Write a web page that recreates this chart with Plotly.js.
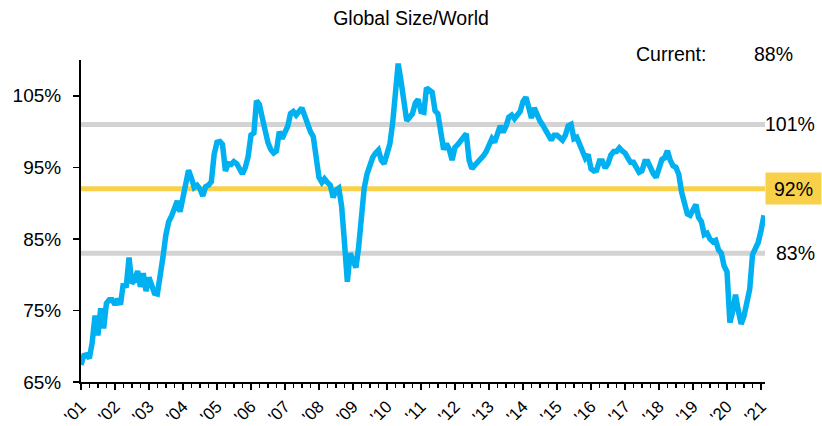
<!DOCTYPE html>
<html>
<head>
<meta charset="utf-8">
<script src="https://cdn.plot.ly/plotly-3.0.1.min.js"></script>
<style>html,body{margin:0;padding:0;background:#fff;}#chart{width:822px;height:426px;}</style>
</head>
<body>
<div id="chart"></div>
<script>
// Monthly series, Jan 2001 .. Feb 2021 (%)
const startYear = 2001;
const shareValues = [
  67.4, 68.7, 68.8, 68.3, 70.5, 74.3, 71.5, 75.3, 72.5, 76.0, 76.5, 76.5,
  75.8, 76.6, 75.8, 78.8, 78.2, 82.4, 78.8, 79.2, 80.5, 78.3, 80.2, 77.7,
  79.6, 78.5, 77.4, 77.3, 79.5, 82.5, 85.5, 87.4, 88.2, 89.5, 90.3, 88.8,
  90.8, 92.3, 94.6, 93.5, 92.2, 92.5, 92.0, 91.0, 92.3, 92.5, 93.0, 96.8,
  98.5, 98.6, 98.2, 94.5, 95.5, 95.4, 95.8, 95.5, 94.6, 94.1, 95.0, 96.5,
  99.5, 99.8, 104.3, 103.8, 102.0, 100.1, 98.5, 97.5, 97.0, 97.3, 100.0, 99.0,
  99.8, 100.8, 102.5, 102.8, 102.3, 102.8, 103.3, 102.2, 101.0, 100.0, 99.3, 96.2,
  93.6, 92.9, 93.4, 92.9, 92.5, 90.8, 91.8, 92.1, 89.5, 84.5, 79.0, 83.0,
  82.0, 81.0, 83.7, 88.0, 92.1, 94.1, 95.3, 96.4, 97.0, 97.4, 96.0, 95.5,
  96.9, 98.3, 101.0, 105.0, 109.5, 107.0, 104.0, 101.5, 102.0, 102.5, 104.0, 104.5,
  102.8, 102.7, 106.1, 105.8, 105.5, 102.9, 102.5, 100.0, 97.5, 98.3, 97.5, 96.0,
  97.8, 98.2, 98.6, 99.2, 99.7, 96.0, 94.8, 95.3, 95.7, 96.1, 96.6, 97.2,
  98.0, 99.0, 98.5, 99.5, 100.8, 99.9, 100.7, 102.0, 102.3, 101.8, 102.2, 102.8,
  104.2, 104.8, 103.5, 101.9, 103.3, 102.3, 101.5, 100.9, 100.0, 99.5, 98.8, 99.5,
  99.5, 99.2, 98.8, 99.5, 100.8, 101.0, 99.0, 99.2, 98.3, 97.2, 96.3, 96.8,
  94.8, 94.5, 94.6, 95.9, 95.9, 94.9, 95.5, 96.7, 97.2, 97.2, 97.7, 97.3,
  97.0, 96.3, 95.7, 95.7, 95.1, 94.3, 94.5, 95.8, 95.8, 94.7, 94.1, 93.6,
  95.2, 96.1, 96.3, 97.3, 96.0, 95.2, 95.0, 94.0, 91.5, 90.2, 88.5, 88.3,
  89.3, 89.8, 88.0, 87.4, 85.6, 85.8, 85.0, 84.6, 84.8, 83.5, 83.0, 81.2,
  80.4, 73.3, 74.8, 77.2, 75.0, 73.1, 74.2, 75.8, 78.0, 82.8, 83.6, 84.5,
  86.2, 88.3
];
const yearLabels = ["'01","'02","'03","'04","'05","'06","'07","'08","'09","'10",
  "'11","'12","'13","'14","'15","'16","'17","'18","'19","'20","'21"];
const refLevels = [101, 92, 83];
const refLabels = ["101%", "92%", "83%"];
const currentLabel = "Current:";
const currentValue = "88%";
const yTicks = [65, 75, 85, 95, 105];

const dates = shareValues.map((v, i) => {
  const y = startYear + Math.floor(i / 12);
  const m = (i % 12) + 1;
  return y + '-' + String(m).padStart(2, '0') + '-01';
});
const yearTickVals = yearLabels.map((l, i) => (startYear + i) + '-01-01');

const FONT = 'Liberation Sans, Arial, sans-serif';
const BLUE = '#00B0F0';
const GRAY = '#D3D3D3';
const YELLOW = '#F8D04A';

const trace = {
  x: dates, y: shareValues, type: 'scatter', mode: 'lines',
  line: {color: BLUE, width: 5.5}, hoverinfo: 'skip'
};

const shapes = refLevels.map((lv, i) => ({
  type: 'line', xref: 'paper', x0: 0, x1: 1, yref: 'y', y0: lv, y1: lv,
  line: {color: i === 1 ? YELLOW : GRAY, width: 5}, layer: 'below'
}));

const annotations = [
  {xref: 'paper', yref: 'y', x: 1.076, y: refLevels[0], xanchor: 'right', yanchor: 'middle',
   text: refLabels[0], showarrow: false, font: {family: FONT, size: 19.5, color: '#000'}},
  {xref: 'paper', yref: 'y', x: 1.0, y: refLevels[1], xanchor: 'left', yanchor: 'middle',
   text: refLabels[1], showarrow: false, bgcolor: YELLOW, width: 55, height: 31, borderpad: 0,
   font: {family: FONT, size: 19.5, color: '#000'}},
  {xref: 'paper', yref: 'y', x: 1.076, y: refLevels[2], xanchor: 'right', yanchor: 'middle',
   text: refLabels[2], showarrow: false, font: {family: FONT, size: 19.5, color: '#000'}},
  {xref: 'paper', yref: 'paper', x: 0.8085, y: 1.019, xanchor: 'left', yanchor: 'middle',
   text: currentLabel, showarrow: false, font: {family: FONT, size: 19.5, color: '#000'}},
  {xref: 'paper', yref: 'paper', x: 0.981, y: 1.019, xanchor: 'left', yanchor: 'middle',
   text: currentValue, showarrow: false, font: {family: FONT, size: 19.5, color: '#000'}}
];

const layout = {
  width: 822, height: 426,
  margin: {l: 81, r: 57, t: 60, b: 44},
  paper_bgcolor: '#fff', plot_bgcolor: '#fff',
  showlegend: false,
  font: {family: FONT, color: '#000'},
  title: {text: 'Global Size/World', x: 0.5, xref: 'container', y: 0.958, yref: 'container',
          xanchor: 'center', yanchor: 'middle', font: {family: FONT, size: 19.5, color: '#000'}},
  xaxis: {
    type: 'date', range: ['2001-01-01', '2021-02-12'],
    tickmode: 'array', tickvals: yearTickVals, ticktext: yearLabels,
    tickangle: -45, tickfont: {family: FONT, size: 17, color: '#000'},
    ticks: 'outside', ticklen: 6, tickwidth: 1.5, tickcolor: '#000',
    minor: {ticks: 'outside', ticklen: 4, tickwidth: 1.5, tickcolor: '#000', dtick: 'M3', tick0: '2001-01-01', showgrid: false},
    showline: true, linecolor: '#000', linewidth: 2,
    showgrid: false, zeroline: false, fixedrange: true
  },
  yaxis: {
    range: [65, 110], tickmode: 'array', tickvals: yTicks, ticktext: yTicks.map(v => v + '%'),
    tickfont: {family: FONT, size: 19, color: '#000'},
    ticks: 'outside', ticklen: 6, tickwidth: 1.5, tickcolor: '#000', ticklabelstandoff: 8,
    showline: true, linecolor: '#000', linewidth: 2,
    showgrid: false, zeroline: false, fixedrange: true
  },
  shapes: shapes,
  annotations: annotations
};

Plotly.newPlot('chart', [trace], layout, {displayModeBar: false, staticPlot: true});
</script>
</body>
</html>
